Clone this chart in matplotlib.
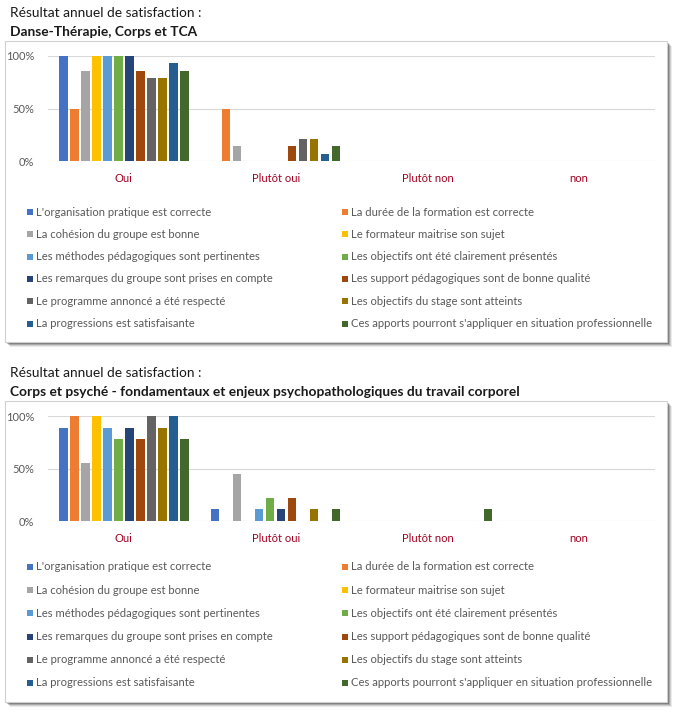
import matplotlib
matplotlib.use('Agg')
import matplotlib.pyplot as plt
from matplotlib.patches import Rectangle
import numpy as np

plt.rcParams['font.family'] = ['Lato', 'DejaVu Sans']

# Data
categories = ['Oui', 'Plutôt oui', 'Plutôt non', 'non']
items = [
    "L'organisation pratique est correcte",
    "La durée de la formation est correcte",
    "La cohésion du groupe est bonne",
    "Le formateur maitrise son sujet",
    "Les méthodes pédagogiques sont pertinentes",
    "Les objectifs ont été clairement présentés",
    "Les remarques du groupe sont prises en compte",
    "Les support pédagogiques sont de bonne qualité",
    "Le programme annoncé a été respecté",
    "Les objectifs du stage sont atteints",
    "La progressions est satisfaisante",
    "Ces apports pourront s'appliquer en situation professionnelle",
]
colors = ['#4472C4', '#ED7D31', '#A5A5A5', '#FFC000', '#5B9BD5', '#70AD47',
          '#264478', '#9E480E', '#636363', '#997300', '#255E91', '#43682B']

title_top = "Danse-Thérapie, Corps et TCA"
# rows = items, columns = categories (share of answers)
values_top = [
    [1.00, 0.00, 0, 0],
    [0.50, 0.50, 0, 0],
    [0.857, 0.143, 0, 0],
    [1.00, 0.00, 0, 0],
    [1.00, 0.00, 0, 0],
    [1.00, 0.00, 0, 0],
    [1.00, 0.00, 0, 0],
    [0.857, 0.143, 0, 0],
    [0.786, 0.214, 0, 0],
    [0.786, 0.214, 0, 0],
    [0.929, 0.071, 0, 0],
    [0.857, 0.143, 0, 0],
]

title_bottom = "Corps et psyché - fondamentaux et enjeux psychopathologiques du travail corporel"
values_bottom = [
    [0.889, 0.111, 0, 0],
    [1.00, 0.00, 0, 0],
    [0.556, 0.444, 0, 0],
    [1.00, 0.00, 0, 0],
    [0.889, 0.111, 0, 0],
    [0.778, 0.222, 0, 0],
    [0.889, 0.111, 0, 0],
    [0.778, 0.222, 0, 0],
    [1.00, 0.00, 0, 0],
    [0.889, 0.111, 0, 0],
    [1.00, 0.00, 0, 0],
    [0.778, 0.111, 0.111, 0],
]

W, H = 679, 716
fig = plt.figure(figsize=(W / 100, H / 100), dpi=100)
fig.patch.set_facecolor('white')


def px(x, y):
    return x / W, 1 - y / H


def panel(top, values, subtitle, leg_y, leg_step):
    # titles
    fig.text(*px(10, top - 28), "Résultat annuel de satisfaction :", fontsize=9.9,
             color='#1a1a1a', va='center')
    fig.text(*px(10, top - 9), subtitle, fontsize=9.9, fontweight='bold',
             color='#1a1a1a', va='center')

    # box with shadow
    bx0, bx1, by0, by1 = 5, 667, top, top + 301
    for k, a in [(5, 0.08), (4, 0.12), (3, 0.18), (2, 0.25), (1, 0.35)]:
        x0, y0 = px(bx0 + k, by1 + k)
        x1, y1 = px(bx1 + k, by0 + k)
        fig.patches.append(Rectangle((x0, y0), x1 - x0, y1 - y0, transform=fig.transFigure,
                                     facecolor='black', alpha=a, edgecolor='none', zorder=0))
    x0, y0 = px(bx0, by1)
    x1, y1 = px(bx1, by0)
    fig.patches.append(Rectangle((x0, y0), x1 - x0, y1 - y0, transform=fig.transFigure,
                                 facecolor='white', edgecolor='#D0D0D0', lw=0.8, zorder=1))

    # chart axes
    l, r = 48, 655
    t, b = top + 15, top + 120
    ax = fig.add_axes([l / W, 1 - b / H, (r - l) / W, (b - t) / H])
    ax.set_zorder(5)
    ax.set_facecolor('none')
    vals = np.array(values)
    n = len(items)
    slot = 11 / 152
    x = np.arange(len(categories))
    for i in range(n):
        ax.bar(x + (i - (n - 1) / 2) * slot, vals[i], width=8.5 / 152,
               color=colors[i], zorder=3)
    ax.set_xlim(-0.5, len(categories) - 0.5)
    ax.set_ylim(0, 1)
    ax.set_yticks([0, 0.5, 1])
    ax.set_yticklabels(['0%', '50%', '100%'])
    ax.set_xticks(x)
    ax.set_xticklabels(categories)
    ax.tick_params(axis='y', length=0, pad=10, labelsize=8, labelcolor='#595959')
    ax.tick_params(axis='x', length=0, pad=9, labelsize=8, labelcolor='#A50021')
    ax.yaxis.grid(True, color='#D9D9D9', lw=0.8, zorder=0)
    ax.set_axisbelow(True)
    for s in ax.spines.values():
        s.set_visible(False)

    # legend (row-major, two columns)
    for i, lab in enumerate(items):
        col, row = i % 2, i // 2
        lx = 27 + col * 315
        ly = leg_y + row * leg_step
        sx0, sy0 = px(lx, ly + 3)
        fig.patches.append(Rectangle((sx0, sy0), 6 / W, 6 / H, transform=fig.transFigure,
                                     facecolor=colors[i], edgecolor='none', zorder=2))
        fig.text(*px(lx + 9, ly), lab, fontsize=8.1, color='#595959', va='center', zorder=3)


panel(41, values_top, title_top, 212, 22.3)
panel(401, values_bottom, title_bottom, 567, 23.2)

fig.savefig('out.png', dpi=100)
